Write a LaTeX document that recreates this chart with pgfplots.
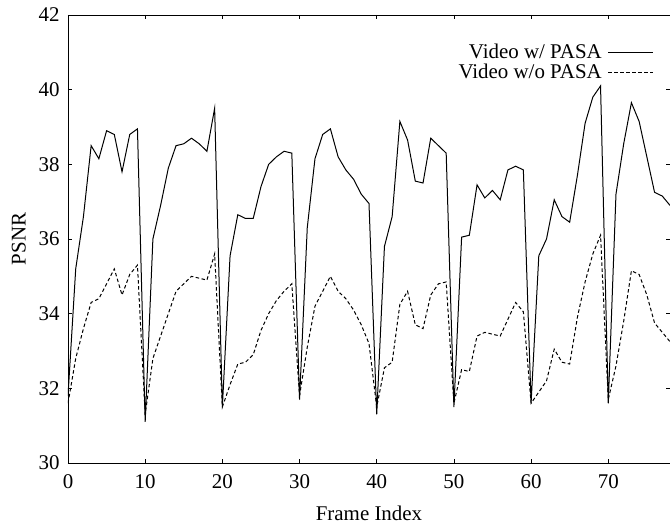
\documentclass[border=0pt]{standalone}
\usepackage{fontspec}
\setmainfont{Liberation Serif}
\usepackage{pgfplots}
\pgfplotsset{compat=1.18}
\usepackage{pgfplotstable}
\pgfplotstableread{
x y
0 31.8
1 35.2
2 36.6
3 38.5
4 38.15
5 38.9
6 38.8
7 37.8
8 38.8
9 38.95
10 31.1
11 36.0
12 36.9
13 37.9
14 38.5
15 38.55
16 38.7
17 38.55
18 38.35
19 39.5
20 31.5
21 35.55
22 36.65
23 36.55
24 36.55
25 37.4
26 38.0
27 38.2
28 38.35
29 38.3
30 31.7
31 36.3
32 38.15
33 38.8
34 38.95
35 38.2
36 37.85
37 37.6
38 37.2
39 36.95
40 31.3
41 35.8
42 36.6
43 39.15
44 38.65
45 37.55
46 37.5
47 38.7
48 38.5
49 38.3
50 31.5
51 36.05
52 36.1
53 37.45
54 37.1
55 37.3
56 37.05
57 37.85
58 37.95
59 37.85
60 31.6
61 35.55
62 36.0
63 37.05
64 36.6
65 36.45
66 37.7
67 39.1
68 39.8
69 40.1
70 31.6
71 37.2
72 38.55
73 39.65
74 39.15
75 38.2
76 37.25
77 37.15
78 36.9
}\withpasa
\pgfplotstableread{
x y
0 31.6
1 32.8
2 33.6
3 34.3
4 34.4
5 34.8
6 35.2
7 34.5
8 35.05
9 35.3
10 31.3
11 32.8
12 33.4
13 34.0
14 34.6
15 34.8
16 35.0
17 34.95
18 34.9
19 35.6
20 31.5
21 32.1
22 32.65
23 32.7
24 32.9
25 33.55
26 34.0
27 34.35
28 34.6
29 34.8
30 31.8
31 33.1
32 34.2
33 34.6
34 35.0
35 34.6
36 34.4
37 34.1
38 33.7
39 33.2
40 31.5
41 32.55
42 32.7
43 34.25
44 34.6
45 33.7
46 33.6
47 34.5
48 34.8
49 34.85
50 31.6
51 32.5
52 32.45
53 33.4
54 33.5
55 33.45
56 33.4
57 33.85
58 34.3
59 34.05
60 31.6
61 31.9
62 32.2
63 33.05
64 32.7
65 32.65
66 33.9
67 34.85
68 35.6
69 36.1
70 31.7
71 32.6
72 33.8
73 35.15
74 35.05
75 34.5
76 33.75
77 33.5
78 33.25
}\withoutpasa
\begin{document}
\begin{tikzpicture}[font=\fontsize{21}{25}\selectfont]
\begin{axis}[
  scale only axis,
  width=602bp, height=448bp,
  xmin=0, xmax=78, ymin=30, ymax=42,
  xtick={0,10,...,70}, ytick={30,32,...,42},
  tick align=inside,
  major tick length=4bp,
  tick style={line width=0.6bp, black},
  axis line style={line width=0.8bp},
  /pgf/number format/assume math mode=true,
  tick label style={font=\fontsize{21}{25}\selectfont},
  label style={font=\fontsize{21}{25}\selectfont},
  xticklabel style={yshift=-8bp},
  yticklabel style={xshift=-5bp},
  xlabel={Frame Index},
  ylabel={PSNR},
  xlabel style={yshift=-11bp},
  ylabel style={yshift=6bp},
  legend style={draw=none, fill=none, at={(1,1)}, anchor=north east,
    xshift=-16bp, yshift=-27bp, font=\fontsize{21}{25}\selectfont,
    column sep=4bp, row sep=0bp, inner sep=0pt},
  legend cell align=right,
  legend plot pos=right,
  legend image code/.code={\draw[#1] (0bp,0bp) -- (45bp,0bp);},
]
\addplot[black, line width=1bp] table {\withpasa};
\addlegendentry{Video w/ PASA}
\addplot[black, line width=1bp, dash pattern=on 3.5bp off 2.5bp] table {\withoutpasa};
\addlegendentry{Video w/o PASA}
\end{axis}
\pgfresetboundingbox
\path ([xshift=-68bp,yshift=-64bp]current axis.south west) rectangle ([yshift=15bp]current axis.north east);
\end{tikzpicture}
\end{document}
